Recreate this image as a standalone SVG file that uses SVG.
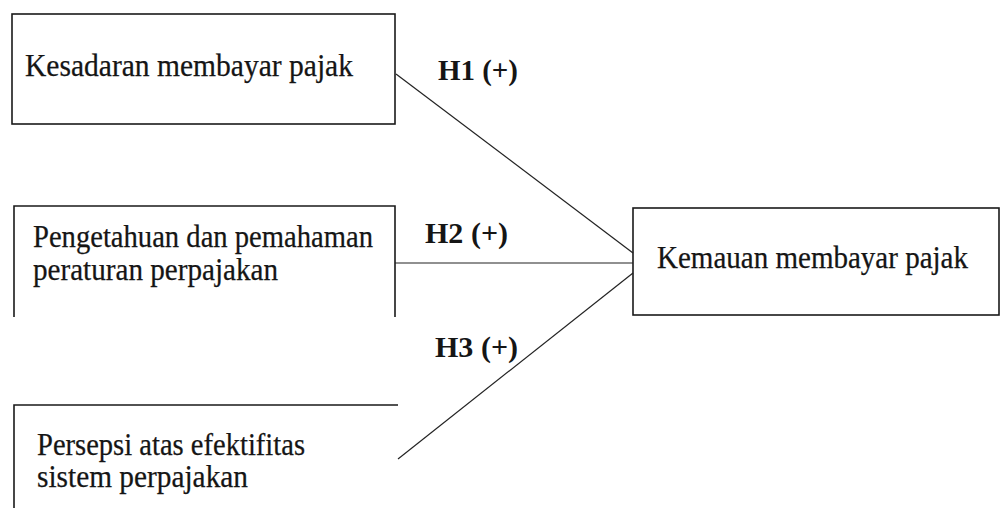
<svg xmlns="http://www.w3.org/2000/svg" width="1001" height="508" viewBox="0 0 1001 508">
<style>
.box{fill:none;stroke:#1a1a1a;stroke-width:1.6}
.t{font-family:"Liberation Serif","Times New Roman",serif;font-size:31px;fill:#151515;stroke:#151515;stroke-width:0.25}
.h{font-family:"Liberation Serif","Times New Roman",serif;font-size:29px;font-weight:bold;fill:#151515}
.c{stroke:#222;stroke-width:1.2;fill:none}
</style>
<rect width="1001" height="508" fill="#fff"/>
<g id="node-kesadaran">
<rect class="box" x="12" y="14" width="383" height="110"/>
<text class="t" x="25" y="76" textLength="328" lengthAdjust="spacingAndGlyphs">Kesadaran membayar pajak</text>
</g>
<g id="node-pengetahuan">
<path class="box" d="M14,317 V206 H395 V317"/>
<text class="t" x="33" y="247" textLength="340" lengthAdjust="spacingAndGlyphs">Pengetahuan dan pemahaman</text>
<text class="t" x="33" y="280" textLength="245" lengthAdjust="spacingAndGlyphs">peraturan perpajakan</text>
</g>
<g id="node-persepsi">
<path class="box" d="M14,508 V405 H398"/>
<text class="t" x="37" y="455" textLength="268" lengthAdjust="spacingAndGlyphs">Persepsi atas efektifitas</text>
<text class="t" x="37" y="487" textLength="211" lengthAdjust="spacingAndGlyphs">sistem perpajakan</text>
</g>
<g id="node-kemauan">
<rect class="box" x="633" y="208" width="366" height="107"/>
<text class="t" x="657" y="268" textLength="311" lengthAdjust="spacingAndGlyphs">Kemauan membayar pajak</text>
</g>
<g id="connectors">
<line class="c" x1="396" y1="74" x2="633" y2="253"/>
<line class="c" x1="395" y1="263" x2="633" y2="263"/>
<line class="c" x1="398" y1="459" x2="633" y2="273"/>
<text class="h" x="438" y="80" textLength="80" lengthAdjust="spacingAndGlyphs">H1 (+)</text>
<text class="h" x="425" y="243" textLength="83" lengthAdjust="spacingAndGlyphs">H2 (+)</text>
<text class="h" x="435" y="357" textLength="83" lengthAdjust="spacingAndGlyphs">H3 (+)</text>
</g>
</svg>
